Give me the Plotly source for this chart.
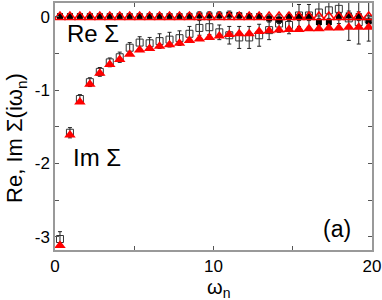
import plotly.graph_objects as go

beta = 10.0
n_idx = list(range(32))
omega = [(2 * n + 1) * 3.14159265 / beta for n in n_idx]

im_tri = [-3.12, -1.61, -1.16, -0.92, -0.77, -0.65, -0.58, -0.51, -0.45, -0.43,
          -0.40, -0.38, -0.36, -0.32, -0.30, -0.28, -0.26, -0.24, -0.23, -0.23,
          -0.20, -0.19, -0.18, -0.17, -0.17, -0.16, -0.16, -0.15, -0.15, -0.14,
          -0.14, -0.14]
im_sq = [-3.03, -1.58, -1.12, -0.89, -0.75, -0.62, -0.55, -0.42, -0.35, -0.36,
         -0.33, -0.31, -0.29, -0.23, -0.15, -0.14, -0.21, -0.25, -0.28, -0.28,
         -0.25, -0.18, -0.09, -0.11, 0.02, 0.02, 0.06, 0.09, 0.11, -0.02,
         -0.07, -0.03]
im_err = [0.10, 0.07, 0.06, 0.06, 0.06, 0.06, 0.07, 0.07, 0.08, 0.08,
          0.10, 0.10, 0.10, 0.10, 0.10, 0.10, 0.10, 0.12, 0.15, 0.15,
          0.15, 0.13, 0.12, 0.12, 0.15, 0.15, 0.15, 0.15, 0.20, 0.30,
          0.30, 0.30]
re_tri = [0.0] * 32
re_sq = [0.01, 0.01, 0.01, 0.01, 0.01, 0.01, 0.01, 0.01, 0.01, 0.01,
         0.01, 0.01, 0.01, 0.01, 0.02, 0.02, 0.02, 0.03, 0.02, 0.01,
         0.01, -0.02, -0.04, 0.0, 0.0, 0.0, -0.07, -0.07, 0.01, 0.02,
         0.01, -0.06]
re_err = [0.02, 0.02, 0.02, 0.02, 0.02, 0.02, 0.02, 0.03, 0.03, 0.03,
          0.03, 0.03, 0.03, 0.04, 0.05, 0.05, 0.05, 0.05, 0.04, 0.03,
          0.03, 0.05, 0.05, 0.05, 0.05, 0.05, 0.05, 0.05, 0.05, 0.06,
          0.06, 0.06]

fig = go.Figure()
fig.add_trace(go.Scatter(
    x=omega, y=im_sq, mode="markers",
    marker=dict(symbol="square-open", size=7, color="#333333", line=dict(width=1)),
    error_y=dict(type="data", array=im_err, color="#222222", thickness=1, width=2),
    showlegend=False))
fig.add_trace(go.Scatter(
    x=omega, y=re_sq, mode="markers",
    marker=dict(symbol="square", size=6, color="black"),
    error_y=dict(type="data", array=re_err, color="#222222", thickness=1, width=2),
    showlegend=False))
fig.add_trace(go.Scatter(
    x=omega, y=re_tri, mode="markers",
    marker=dict(symbol="triangle-up-open", size=10, color="red", line=dict(width=1.5)),
    showlegend=False))
fig.add_trace(go.Scatter(
    x=omega, y=im_tri, mode="markers",
    marker=dict(symbol="triangle-up", size=10, color="red"),
    showlegend=False))

font = dict(family="Liberation Sans, Arial, sans-serif", color="black")
W, H = 382, 300
l, r, t, b = 55, 10, 1, 50
pw, ph = W - l - r, H - t - b


def pix(px, py):
    return dict(xref="paper", yref="paper", x=(px - l) / pw, y=1 - (py - t) / ph,
                xanchor="center", yanchor="middle", showarrow=False)


fig.update_layout(
    width=W, height=H,
    margin=dict(l=l, r=r, t=t, b=b),
    plot_bgcolor="white", paper_bgcolor="white",
    font=dict(size=16, **font),
    xaxis=dict(range=[0, 20], tickvals=[0, 10, 20], ticks="inside", ticklen=4,
               showgrid=False, zeroline=False, showline=True, linecolor="#999999",
               linewidth=1.5, mirror="ticks", tickcolor="#555555",
               minor=dict(tickvals=[5, 15], ticks="inside", ticklen=4, tickcolor="#555555"),
               tickfont=dict(size=17)),
    yaxis=dict(range=[-3.18, 0.19], tickvals=[0, -1, -2, -3], ticktext=["0", "-1", "-2", "-3"],
               ticks="inside", ticklen=4, showgrid=False, zeroline=False, showline=True,
               linecolor="#999999", linewidth=1.5, mirror="ticks", tickcolor="#555555",
               minor=dict(tickvals=[-0.5, -1.5, -2.5], ticks="inside", ticklen=4, tickcolor="#555555"),
               tickfont=dict(size=17)),
    annotations=[
        dict(text="Re Σ", font=dict(size=24, **font), **pix(93, 32)),
        dict(text="Im Σ", font=dict(size=24, **font), **pix(97, 157)),
        dict(text="(a)", font=dict(size=23, **font), **pix(337, 229)),
        dict(text="ω<sub>n</sub>", font=dict(size=20, **font), **pix(218, 289)),
        dict(text="Re, Im Σ(iω<sub>n</sub>)", textangle=-90, font=dict(size=22, **font),
             **pix(16, 137)),
    ],
)

fig.write_html("out.html", config={"displayModeBar": False},
               post_script="document.body.style.margin='0';")
